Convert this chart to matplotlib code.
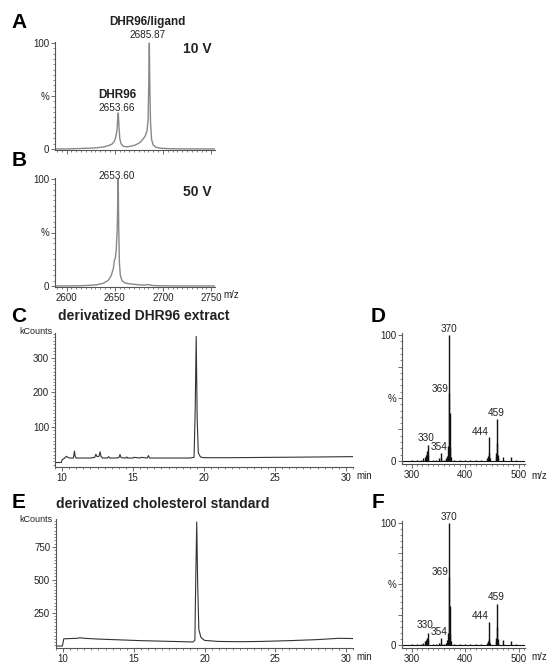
import matplotlib
matplotlib.use("Agg")
import matplotlib.pyplot as plt
from matplotlib.ticker import MultipleLocator, FixedLocator, FixedFormatter

plt.rcParams['font.family'] = ['Liberation Sans', 'DejaVu Sans']

# ---------------- data ----------------
# Panel A: ESI-MS at 10 V (m/z, relative %)
a_mz = [2588, 2600, 2610, 2620, 2630, 2638, 2643, 2647, 2649.5, 2651, 2652.3, 2653.0,
        2653.66, 2654.3, 2655.2, 2656.5, 2659, 2663, 2668, 2672, 2676, 2679, 2681.5,
        2683.5, 2684.6, 2685.3, 2685.87, 2686.4, 2687.1, 2688.2, 2690, 2693, 2698,
        2705, 2720, 2740, 2754]
a_pct = [0, 0, 0.3, 0.6, 1.0, 1.8, 3.0, 4.5, 7, 11, 18, 27,
         34, 22, 10, 5, 2.5, 2.0, 2.8, 4.0, 6.0, 9, 12,
         17, 28, 62, 100, 58, 25, 9, 3.5, 1.5, 0.6,
         0.3, 0.1, 0, 0]

# Panel B: ESI-MS at 50 V
b_mz = [2588, 2600, 2615, 2625, 2632, 2638, 2643, 2646, 2648.5, 2649.6, 2650.4, 2651.5,
        2652.6, 2653.1, 2653.6, 2654.1, 2654.8, 2655.8, 2657.5, 2660, 2665, 2670, 2676,
        2681, 2684, 2686, 2689, 2695, 2710, 2754]
b_pct = [0, 0, 0.2, 0.6, 1.2, 2.5, 5, 9, 16, 24, 25, 33,
         55, 80, 100, 55, 22, 10, 5, 3, 2, 1.5, 1.0,
         0.8, 1.3, 1.0, 0.4, 0.2, 0, 0]

# Panel C: GC chromatogram, derivatized DHR96 extract (min, kCounts)
c_t = [9.5, 9.95, 10.0, 10.15, 10.3, 10.4, 10.55, 10.8, 10.87, 10.92, 10.98, 11.5, 12.0,
       12.3, 12.38, 12.46, 12.6, 12.68, 12.74, 12.85, 13.2, 13.28, 13.36, 13.8, 14.0, 14.08,
       14.16, 14.5, 14.56, 14.62, 15.0, 15.06, 15.5, 15.56, 16.0, 16.08, 16.16, 17.0, 18.0,
       19.0, 19.3, 19.38, 19.45, 19.52, 19.6, 19.75, 20.0, 22.0, 25.0, 28.0, 30.5]
c_k = [-3, -3, 5, 9, 15, 12, 10, 10, 30, 16, 10, 10, 10,
       12, 21, 14, 15, 28, 15, 10, 10, 14, 10, 10, 11, 20,
       11, 10, 13, 10, 10, 12, 10, 12, 10, 17, 10, 10, 10,
       10, 12, 150, 362, 120, 25, 13, 11, 11, 12, 13, 14]

# Panel E: GC chromatogram, derivatized cholesterol standard
e_t = [9.5, 9.95, 10.0, 10.05, 10.5, 11.0, 11.2, 11.5, 12.5, 14.0, 15.5, 17.0, 18.5, 19.2,
       19.32, 19.38, 19.45, 19.52, 19.6, 19.75, 20.0, 21.0, 22.5, 24.0, 26.0, 28.0, 29.5, 30.5]
e_k = [-5, -5, 20, 50, 52, 54, 58, 54, 48, 42, 36, 32, 28, 26,
       40, 500, 940, 450, 120, 60, 38, 30, 28, 30, 36, 44, 54, 52]

# Panel D: EI mass spectrum of the DHR96 peak (m/z, %)
d_mz = [300, 310, 318, 322, 325, 327, 328, 329, 330, 331, 340, 345, 352, 354, 355, 360,
        365, 367, 368, 369, 370, 371, 372, 373, 380, 390, 400, 410, 420, 430, 441, 443,
        444, 445, 446, 457, 458, 459, 460, 461, 462, 470, 471, 485, 486, 495]
d_int = [1, 0.5, 1, 2, 3, 5, 6, 8, 13, 5, 1, 1, 2, 6, 2, 1,
         2, 4, 12, 54, 100, 38, 10, 3, 1, 0.5, 0.5, 1, 1, 1, 2, 4,
         19, 6, 2, 3, 6, 33, 14, 5, 2, 3, 1, 3, 1, 1]

# Panel F: EI mass spectrum of the cholesterol standard
f_mz = [300, 310, 318, 322, 325, 327, 328, 329, 330, 331, 340, 345, 352, 354, 355, 360,
        365, 367, 368, 369, 370, 371, 372, 373, 380, 390, 400, 410, 420, 430, 441, 443,
        444, 445, 446, 457, 458, 459, 460, 461, 462, 470, 471, 485, 486, 495]
f_int = [1, 0.5, 1, 2, 3, 4, 5, 6, 10, 4, 1, 1, 2, 6, 2, 1,
         2, 4, 10, 56, 100, 32, 9, 3, 1, 0.5, 0.5, 1, 1, 1, 2, 3,
         19, 5, 2, 3, 6, 34, 15, 5, 2, 4, 1, 3, 1, 1]

ms_labels = ['370', '369', '459', '444', '330', '354']

# ---------------- figure ----------------
W, H = 548, 666
fig = plt.figure(figsize=(W / 100, H / 100), dpi=100)
fig.patch.set_facecolor('white')

SP = '#555555'
TXT = '#222222'


def px_axes(left, top, right, bottom):
    return fig.add_axes([left / W, 1 - bottom / H, (right - left) / W, (bottom - top) / H])


def ftext(x, y, s, **kw):
    fig.text(x / W, 1 - y / H, s, ha=kw.pop('ha', 'center'), va=kw.pop('va', 'center'),
             color=kw.pop('color', TXT), **kw)


def style(ax):
    for side in ('top', 'right'):
        ax.spines[side].set_visible(False)
    for side in ('left', 'bottom'):
        ax.spines[side].set_color(SP)
        ax.spines[side].set_linewidth(0.8)
    ax.tick_params(which='major', length=3, width=0.6, color=SP, labelsize=7,
                   labelcolor=TXT, pad=1.2)
    ax.tick_params(which='minor', length=1.5, width=0.5, color=SP)
    ax.set_facecolor('white')


# ---- A ----
axA = px_axes(55, 42, 215, 150)
axA.plot(a_mz, a_pct, color='#888888', lw=1.0)
axA.set_xlim(2588, 2754)
axA.set_ylim(-1, 101)
style(axA)
axA.xaxis.set_major_locator(MultipleLocator(50))
axA.xaxis.set_minor_locator(MultipleLocator(5))
axA.set_xticklabels([])
axA.yaxis.set_major_locator(FixedLocator([0, 50, 100]))
axA.yaxis.set_major_formatter(FixedFormatter(['0', '%', '100']))
axA.yaxis.set_minor_locator(MultipleLocator(5))

# ---- B ----
axB = px_axes(55, 178, 215, 287)
axB.plot(b_mz, b_pct, color='#888888', lw=1.0)
axB.set_xlim(2588, 2754)
axB.set_ylim(-1, 101)
style(axB)
axB.xaxis.set_major_locator(FixedLocator([2600, 2650, 2700, 2750]))
axB.xaxis.set_minor_locator(MultipleLocator(5))
axB.yaxis.set_major_locator(FixedLocator([0, 50, 100]))
axB.yaxis.set_major_formatter(FixedFormatter(['0', '%', '100']))
axB.yaxis.set_minor_locator(MultipleLocator(5))

# ---- C ----
axC = px_axes(55, 333, 353, 467)
axC.plot(c_t, c_k, color='#333333', lw=0.8)
axC.set_xlim(9.5, 30.5)
axC.set_ylim(-16, 372)
style(axC)
axC.xaxis.set_major_locator(MultipleLocator(5))
axC.xaxis.set_minor_locator(MultipleLocator(0.5))
axC.yaxis.set_major_locator(FixedLocator([100, 200, 300]))
axC.yaxis.set_minor_locator(MultipleLocator(10))

# ---- E ----
axE = px_axes(56, 519, 353, 648)
axE.plot(e_t, e_k, color='#333333', lw=0.8)
axE.set_xlim(9.5, 30.5)
axE.set_ylim(-20, 963)
style(axE)
axE.xaxis.set_major_locator(MultipleLocator(5))
axE.xaxis.set_minor_locator(MultipleLocator(0.5))
axE.yaxis.set_major_locator(FixedLocator([250, 500, 750]))
axE.yaxis.set_minor_locator(MultipleLocator(25))


def spectrum(ax, mz, inten):
    ax.vlines(mz, 0, inten, color='#111111', lw=1.0)
    ax.axhline(0, color='#111111', lw=0.8)
    ax.set_xlim(282, 512)
    ax.set_ylim(-2.4, 101.6)
    style(ax)
    ax.xaxis.set_major_locator(FixedLocator([300, 400, 500]))
    ax.xaxis.set_minor_locator(MultipleLocator(10))
    ax.yaxis.set_major_locator(FixedLocator([0, 25, 50, 75, 100]))
    ax.yaxis.set_major_formatter(FixedFormatter(['0', '', '%', '', '100']))
    ax.yaxis.set_minor_locator(MultipleLocator(5))


# ---- D ----
axD = px_axes(402, 333, 525, 464)
spectrum(axD, d_mz, d_int)
# ---- F ----
axF = px_axes(402, 521, 525, 648)
spectrum(axF, f_mz, f_int)

# peak labels in D
fs_pk = 7.2
axD.text(370, 101, ms_labels[0], ha='center', va='bottom', fontsize=fs_pk, color=TXT)
axD.text(369, 57, ms_labels[1], ha='right', va='center', fontsize=fs_pk, color=TXT)
axD.text(459, 34, ms_labels[2], ha='center', va='bottom', fontsize=fs_pk, color=TXT)
axD.text(443.5, 23, ms_labels[3], ha='right', va='center', fontsize=fs_pk, color=TXT)
axD.text(327, 14, ms_labels[4], ha='center', va='bottom', fontsize=fs_pk, color=TXT)
axD.text(352, 7.5, ms_labels[5], ha='center', va='bottom', fontsize=fs_pk, color=TXT)
# peak labels in F
axF.text(370, 101, ms_labels[0], ha='center', va='bottom', fontsize=fs_pk, color=TXT)
axF.text(369, 60, ms_labels[1], ha='right', va='center', fontsize=fs_pk, color=TXT)
axF.text(459, 35, ms_labels[2], ha='center', va='bottom', fontsize=fs_pk, color=TXT)
axF.text(443.5, 24, ms_labels[3], ha='right', va='center', fontsize=fs_pk, color=TXT)
axF.text(325, 12, ms_labels[4], ha='center', va='bottom', fontsize=fs_pk, color=TXT)
axF.text(351, 6.5, ms_labels[5], ha='center', va='bottom', fontsize=fs_pk, color=TXT)

# ---- annotations / figure text ----
letter_kw = dict(fontsize=15, fontweight='bold', color='black')
ftext(19, 23, 'A', **letter_kw)
ftext(19, 160, 'B', **letter_kw)
ftext(19, 316, 'C', **letter_kw)
ftext(378, 316, 'D', **letter_kw)
ftext(19, 502, 'E', **letter_kw)
ftext(378, 503, 'F', **letter_kw)

ftext(147, 22, 'DHR96/ligand', fontsize=8.5, fontweight='bold')
ftext(147, 35, '2685.87', fontsize=7.2)
ftext(197, 49, '10 V', fontsize=10, fontweight='bold')
ftext(117, 95, 'DHR96', fontsize=8.5, fontweight='bold')
ftext(117, 108, '2653.66', fontsize=7.2)

ftext(117, 176, '2653.60', fontsize=7.2)
ftext(197, 192, '50 V', fontsize=10, fontweight='bold')
ftext(223, 295, 'm/z', fontsize=7, ha='left')

ftext(58, 316, 'derivatized DHR96 extract', fontsize=10, fontweight='bold', ha='left')
ftext(52, 332, 'kCounts', fontsize=6.5, ha='right')
ftext(356, 476, 'min', fontsize=7, ha='left')
ftext(531, 476, 'm/z', fontsize=7, ha='left')

ftext(56, 504, 'derivatized cholesterol standard', fontsize=10, fontweight='bold', ha='left')
ftext(52, 519, 'kCounts', fontsize=6.5, ha='right')
ftext(356, 657, 'min', fontsize=7, ha='left')
ftext(531, 657, 'm/z', fontsize=7, ha='left')

fig.savefig('out.png', dpi=100, facecolor='white')
